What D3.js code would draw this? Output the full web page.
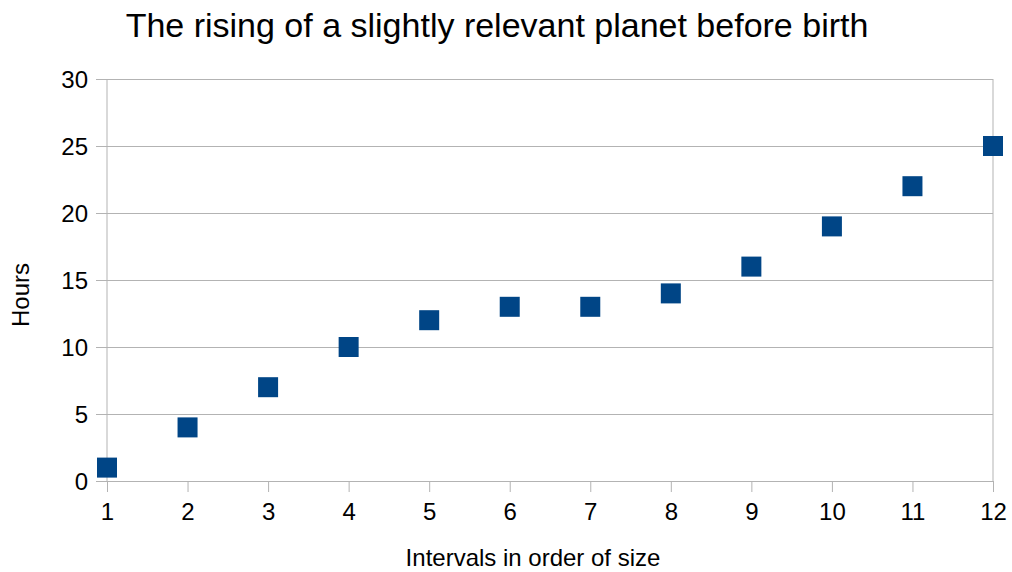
<!DOCTYPE html>
<html>
<head>
<meta charset="utf-8">
<script src="https://cdnjs.cloudflare.com/ajax/libs/d3/7.8.5/d3.min.js"></script>
<style>
  body { margin: 0; background: #fff; }
  text { font-family: "Liberation Sans", Arial, sans-serif; fill: #000; }
</style>
</head>
<body>
<svg id="chart" width="1012" height="572"></svg>
<script>
    // data
    var intervals = [1, 2, 3, 4, 5, 6, 7, 8, 9, 10, 11, 12]
    var hours = [1, 4, 7, 10, 12, 13, 13, 14, 16, 19, 22, 25]
    var yTicks = [0, 5, 10, 15, 20, 25, 30]

    var svg = d3.select("#chart")
    var plotLeft = 107, plotRight = 993, plotTop = 79, plotBottom = 481
    var labelFont = "Liberation Sans, Arial, sans-serif"

    var x = d3.scaleLinear().domain([1, 12]).range([plotLeft, plotRight])
    var y = d3.scaleLinear().domain([0, 30]).range([plotBottom, plotTop])

    // horizontal grid + y ticks
    svg.append("g")
        .attr("transform", "translate(" + plotLeft + ",0)")
        .call(d3.axisLeft(y).tickValues(yTicks).tickSizeInner(-(plotRight - plotLeft)).tickSizeOuter(0).tickPadding(6))
        .call(function(g) {
            g.select(".domain").remove()
            g.selectAll(".tick line").attr("stroke", "#b3b3b3").attr("x1", -11)
            g.selectAll(".tick text")
                .attr("font-size", 24).attr("font-family", labelFont).attr("fill", "#000")
                .attr("x", -19).attr("dy", "0.36em")
        })

    // vertical frame lines
    svg.append("line").attr("x1", plotLeft).attr("x2", plotLeft).attr("y1", plotTop).attr("y2", plotBottom).attr("stroke", "#b3b3b3")
    svg.append("line").attr("x1", plotRight).attr("x2", plotRight).attr("y1", plotTop).attr("y2", plotBottom).attr("stroke", "#b3b3b3")

    // x axis
    svg.append("g")
        .attr("transform", "translate(0," + plotBottom + ")")
        .call(d3.axisBottom(x).tickValues(intervals).tickFormat(d3.format("d")).tickSize(11).tickSizeOuter(0).tickPadding(11))
        .call(function(g) {
            g.select(".domain").attr("stroke", "#b3b3b3")
            g.selectAll(".tick line").attr("stroke", "#b3b3b3")
            g.selectAll(".tick text").attr("font-size", 24).attr("font-family", labelFont).attr("fill", "#000")
        })

    // points
    svg.append("g").selectAll("rect")
        .data(intervals)
        .enter()
        .append("rect")
        .attr("x", function(d) { return x(d) - 10 })
        .attr("y", function(d, i) { return y(hours[i]) - 10 })
        .attr("width", 20)
        .attr("height", 20)
        .attr("fill", "#004586")

    // titles
    svg.append("text").attr("x", 497).attr("y", 37).attr("text-anchor", "middle")
        .attr("font-size", 34).text("The rising of a slightly relevant planet before birth")
    svg.append("text").attr("x", 533).attr("y", 566).attr("text-anchor", "middle")
        .attr("font-size", 24).text("Intervals in order of size")
    svg.append("text").attr("transform", "translate(29,295) rotate(-90)").attr("text-anchor", "middle")
        .attr("font-size", 24).text("Hours")
</script>
</body>
</html>
